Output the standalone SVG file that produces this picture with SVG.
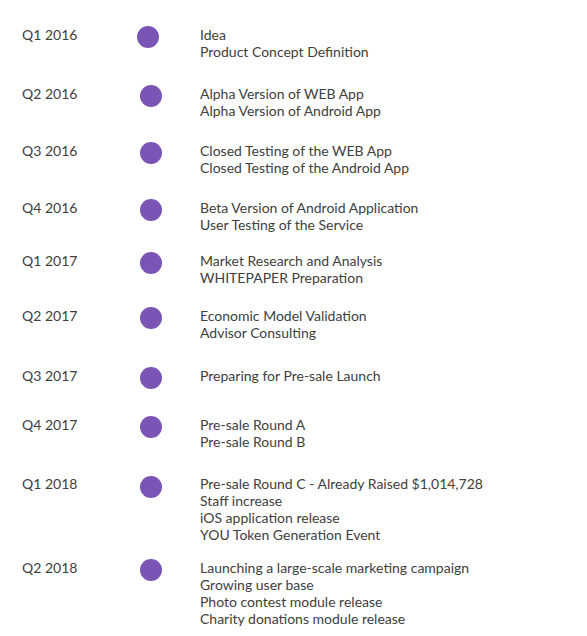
<svg xmlns="http://www.w3.org/2000/svg" width="587" height="636" viewBox="0 0 587 636">
<style>
text{font-family:Lato,"Open Sans",sans-serif;font-size:14px;fill:#404040}
.dot{fill:#7b55b6}
</style>
<rect width="587" height="636" fill="#fff"/>
<g id="q1-2016"><text x="22" y="40">Q1 2016</text><circle class="dot" cx="148" cy="37" r="11"/><text x="200" y="40">Idea<tspan x="200" dy="17">Product Concept Definition</tspan></text></g>
<g id="q2-2016"><text x="22" y="99">Q2 2016</text><circle class="dot" cx="151" cy="96" r="11"/><text x="200" y="99">Alpha Version of WEB App<tspan x="200" dy="17">Alpha Version of Android App</tspan></text></g>
<g id="q3-2016"><text x="22" y="156">Q3 2016</text><circle class="dot" cx="151" cy="153" r="11"/><text x="200" y="156">Closed Testing of the WEB App<tspan x="200" dy="17">Closed Testing of the Android App</tspan></text></g>
<g id="q4-2016"><text x="22" y="213">Q4 2016</text><circle class="dot" cx="151" cy="210" r="11"/><text x="200" y="213">Beta Version of Android Application<tspan x="200" dy="17">User Testing of the Service</tspan></text></g>
<g id="q1-2017"><text x="22" y="266">Q1 2017</text><circle class="dot" cx="151" cy="263" r="11"/><text x="200" y="266">Market Research and Analysis<tspan x="200" dy="17">WHITEPAPER Preparation</tspan></text></g>
<g id="q2-2017"><text x="22" y="321">Q2 2017</text><circle class="dot" cx="151" cy="318" r="11"/><text x="200" y="321">Economic Model Validation<tspan x="200" dy="17">Advisor Consulting</tspan></text></g>
<g id="q3-2017"><text x="22" y="381">Q3 2017</text><circle class="dot" cx="151" cy="378" r="11"/><text x="200" y="381">Preparing for Pre-sale Launch</text></g>
<g id="q4-2017"><text x="22" y="430">Q4 2017</text><circle class="dot" cx="151" cy="427" r="11"/><text x="200" y="430">Pre-sale Round A<tspan x="200" dy="17">Pre-sale Round B</tspan></text></g>
<g id="q1-2018"><text x="22" y="489">Q1 2018</text><circle class="dot" cx="151" cy="487" r="11"/><text x="200" y="489">Pre-sale Round C - Already Raised $1,014,728<tspan x="200" dy="17">Staff increase</tspan><tspan x="200" dy="17">iOS application release</tspan><tspan x="200" dy="17">YOU Token Generation Event</tspan></text></g>
<g id="q2-2018"><text x="22" y="573">Q2 2018</text><circle class="dot" cx="151" cy="570" r="11"/><text x="200" y="573">Launching a large-scale marketing campaign<tspan x="200" dy="17">Growing user base</tspan><tspan x="200" dy="17">Photo contest module release</tspan><tspan x="200" dy="17">Charity donations module release</tspan></text></g>
<g id="connectors"></g>
</svg>
